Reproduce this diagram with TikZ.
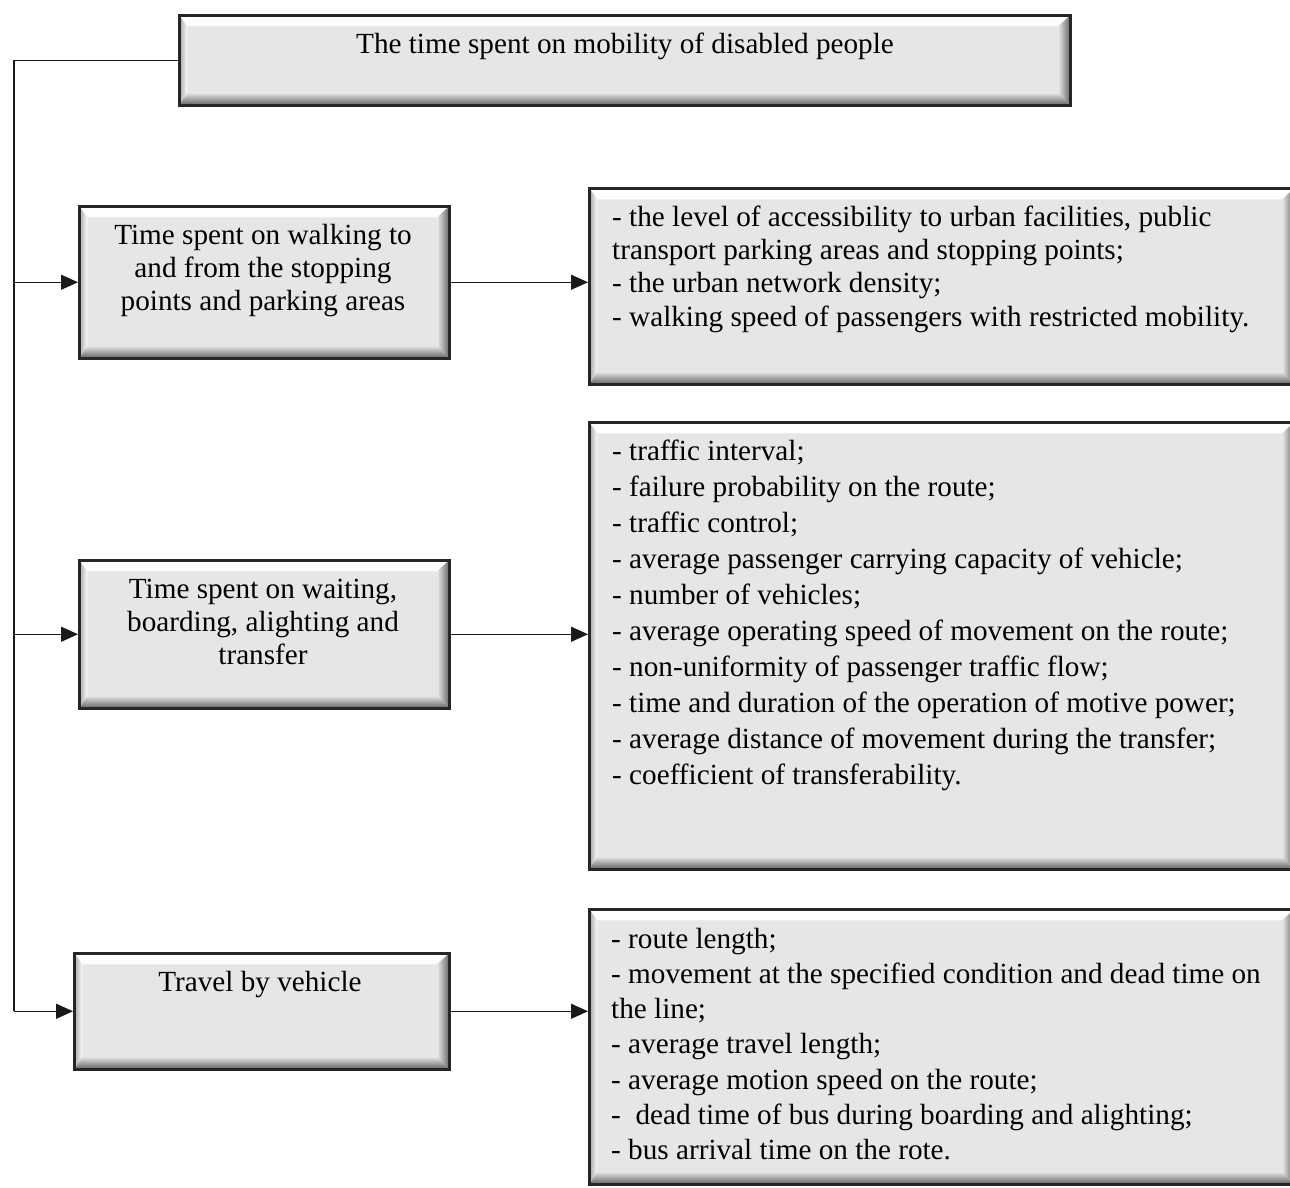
\documentclass[tikz,border=0pt]{standalone}
\usepackage{fontspec}
\setmainfont{Liberation Serif}
\usetikzlibrary{arrows.meta,calc}
\definecolor{boxfill}{HTML}{E6E6E6}
\newcommand\bevelparts{%
 \shade[top color=white, bottom color=boxfill] let \p1=(path picture bounding box.south west), \p2=(path picture bounding box.north east) in
   (\x1,\y2) -- (\x2,\y2) -- (\x2-12pt,\y2-11pt) -- (\x1+8pt,\y2-11pt) -- cycle;
 \shade[left color=black!35, right color=white!90!boxfill] let \p1=(path picture bounding box.south west), \p2=(path picture bounding box.north east) in
   (\x1,\y1) -- (\x1,\y2) -- (\x1+8pt,\y2-11pt) -- (\x1+8pt,\y1+12pt) -- cycle;
 \shade[left color=boxfill, right color=black!60] let \p1=(path picture bounding box.south west), \p2=(path picture bounding box.north east) in
   (\x2,\y2) -- (\x2,\y1) -- (\x2-12pt,\y1+12pt) -- (\x2-12pt,\y2-11pt) -- cycle;
 \shade[top color=black!12, bottom color=black!62] let \p1=(path picture bounding box.south west), \p2=(path picture bounding box.north east) in
   (\x1,\y1) -- (\x2,\y1) -- (\x2-12pt,\y1+12pt) -- (\x1+8pt,\y1+12pt) -- cycle;
}
\tikzset{
  bevelbox/.style={rectangle, draw=black!85, line width=2.5pt, fill=boxfill, inner sep=0pt,
    anchor=north west, path picture={\bevelparts}},
  txt/.style={inner sep=0pt, font=\fontsize{29.2}{33.4}\selectfont},
  link/.style={draw=black!90, line width=1.4pt},
  arr/.style={link, -{Triangle[length=17pt,width=15pt]}},
}
\begin{document}
\begin{tikzpicture}[x=1pt,y=-1pt]
\useasboundingbox (0,0) rectangle (1290,1187);
% boxes
\node[bevelbox, minimum width=891pt, minimum height=90pt] (T) at (178,14) {};
\node[bevelbox, minimum width=370pt, minimum height=152pt] (W) at (78,205) {};
\node[bevelbox, minimum width=370pt, minimum height=148pt] (A) at (78,559) {};
\node[bevelbox, minimum width=375pt, minimum height=116pt] (V) at (73,952) {};
\node[bevelbox, minimum width=705pt, minimum height=196pt] (R1) at (588,187) {};
\node[bevelbox, minimum width=705pt, minimum height=447pt] (R2) at (588,421) {};
\node[bevelbox, minimum width=705pt, minimum height=275pt] (R3) at (588,908) {};
% texts
\node[txt, anchor=base] (Tt) at (625,53) {The time spent on mobility of disabled people};
\node[txt, anchor=north, align=center] (Wt) at (263,220.6) {\strut Time spent on walking to\\and from the stopping\\points and parking areas};
\node[txt, anchor=north, align=center] (At) at (263,574.6) {\strut Time spent on waiting,\\boarding, alighting and\\transfer};
\node[txt, anchor=base] (Vt) at (260,991) {Travel by vehicle};
\node[txt, anchor=north west, align=left] (R1t) at (612,202.6) {\strut - the level of accessibility to urban facilities, public\\transport parking areas and stopping points;\\- the urban network density;\\- walking speed of passengers with restricted mobility.};
\node[txt, anchor=north west, align=left, font=\fontsize{29.2}{36}\selectfont] (R2t) at (612,434.8) {\strut - traffic interval;\\- failure probability on the route;\\- traffic control;\\- average passenger carrying capacity of vehicle;\\- number of vehicles;\\- average operating speed of movement on the route;\\- non-uniformity of passenger traffic flow;\\- time and duration of the operation of motive power;\\- average distance of movement during the transfer;\\- coefficient of transferability.};
\node[txt, anchor=north west, align=left, font=\fontsize{29.2}{35.2}\selectfont] (R3t) at (611,923.4) {\strut - route length;\\- movement at the specified condition and dead time on\\the line;\\- average travel length;\\- average motion speed on the route;\\- \ dead time of bus during boarding and alighting;\\- bus arrival time on the rote.};
% connectors
\coordinate (J) at (14,0);
\draw[link] (T.west) -| (J |- V.west);
\draw[arr] (J |- W.west) -- (W.west);
\draw[arr] (J |- A.west) -- (A.west);
\draw[arr] (J |- V.west) -- (V.west);
\draw[arr] (W.east) -- (R1.west |- W.east);
\draw[arr] (A.east) -- (R2.west |- A.east);
\draw[arr] (V.east) -- (R3.west |- V.east);
\end{tikzpicture}
\end{document}
